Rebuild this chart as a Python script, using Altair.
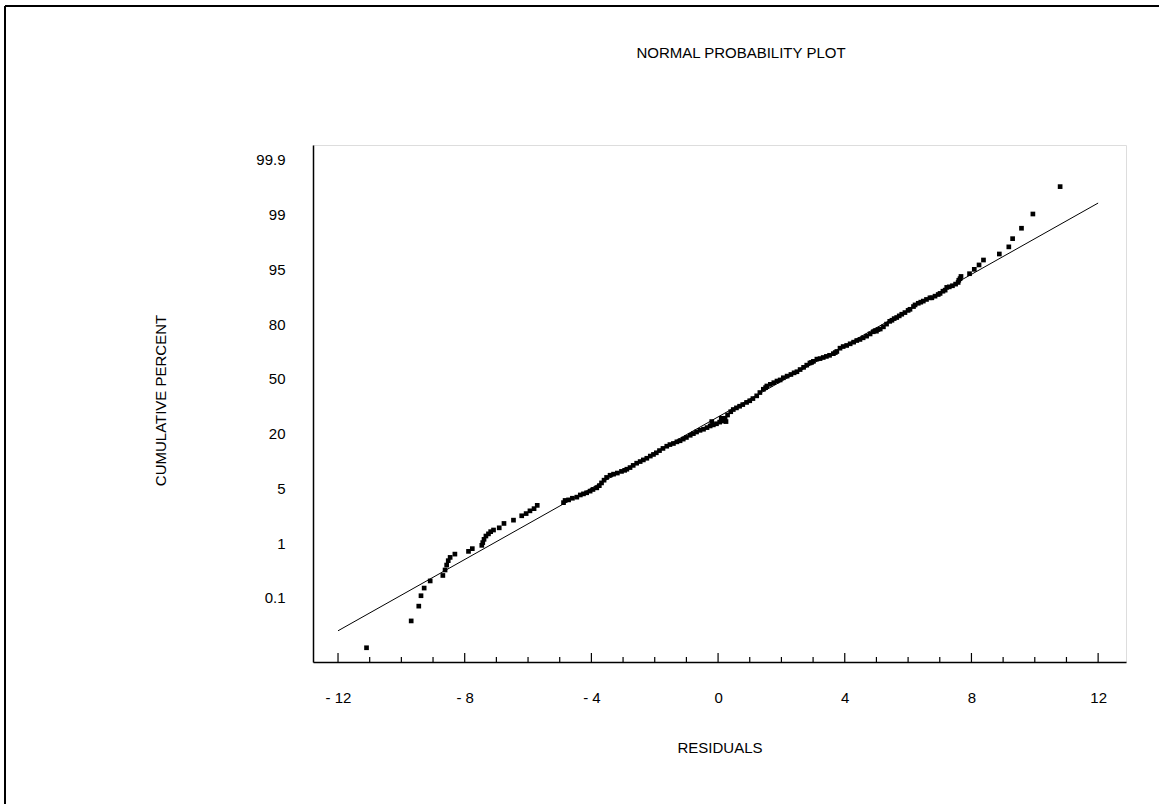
import altair as alt
import pandas as pd

# Residuals (x) and normal-score plotting positions (y, in probability-axis units)
res_x = [-11.10, -9.69, -9.45, -9.38, -9.28, -9.09, -8.69, -8.62, -8.57, -8.52, -8.46, -8.31,
         -7.88, -7.76, -7.46, -7.43, -7.39, -7.33, -7.25, -7.18, -7.09, -6.91, -6.76, -6.46,
         -6.20, -6.06, -5.94, -5.81, -5.71,
         -4.88, -4.83, -4.72, -4.60, -4.46, -4.35, -4.25, -4.15, -4.04, -3.95, -3.83, -3.75,
         -3.68, -3.60, -3.52, -3.41, -3.30, -3.18, -3.05, -2.95, -2.88, -2.78, -2.68, -2.57,
         -2.46, -2.36, -2.25, -2.14, -2.04, -1.95, -1.85, -1.74, -1.62, -1.52, -1.41, -1.30,
         -1.20, -1.10, -1.00, -0.88, -0.78, -0.68, -0.57, -0.46, -0.35, -0.25, -0.15, -0.05,
         0.05, 0.15, 0.22, 0.30, 0.40, 0.48, 0.58, 0.68, 0.78, 0.90, 1.00, 1.10, 1.22, 1.32,
         1.43, 1.54, 1.65, 1.76, 1.86, 1.96, 2.06, 2.18, 2.30, 2.40, 2.49, 2.59, 2.70, 2.80,
         2.90, 3.01, 3.12, 3.22, 3.32, 3.42, 3.52, 3.64, 3.75, 3.85, 3.95, 4.06, 4.17, 4.28,
         4.38, 4.48, 4.58, 4.69, 4.80, 4.90, 4.96, 5.05, 5.12, 5.22, 5.32, 5.42, 5.49, 5.56,
         5.64, 5.72, 5.80, 5.90, 6.00, 6.06, 6.17, 6.22, 6.32, 6.40, 6.48, 6.58, 6.69, 6.75,
         6.85, 6.95, 7.01, 7.10, 7.17, 7.22, 7.30, 7.40, 7.50, 7.58, 7.60, 7.64, 7.67,
         7.94, 8.09, 8.24, 8.38, 8.88, 9.18, 9.30, 9.58, 9.94, 10.80,
         -0.20, 0.10, 0.25, 1.50, 2.95, 3.70, 5.00]
res_y = [-4.91, -4.42, -4.15, -3.96, -3.82, -3.69, -3.59, -3.49, -3.40, -3.32, -3.26, -3.20,
         -3.15, -3.10, -3.04, -2.99, -2.93, -2.87, -2.83, -2.79, -2.76, -2.72, -2.64, -2.58,
         -2.50, -2.46, -2.41, -2.37, -2.31,
         -2.26, -2.22, -2.21, -2.18, -2.16, -2.12, -2.10, -2.08, -2.05, -2.02, -1.99, -1.95,
         -1.90, -1.85, -1.80, -1.76, -1.74, -1.72, -1.69, -1.67, -1.65, -1.62, -1.58, -1.54,
         -1.51, -1.48, -1.45, -1.41, -1.38, -1.35, -1.31, -1.27, -1.23, -1.20, -1.18, -1.15,
         -1.13, -1.10, -1.07, -1.03, -1.00, -0.97, -0.94, -0.92, -0.89, -0.86, -0.84, -0.82,
         -0.79, -0.77, -0.72, -0.66, -0.60, -0.56, -0.53, -0.50, -0.47, -0.43, -0.40, -0.36,
         -0.31, -0.25, -0.19, -0.13, -0.10, -0.07, -0.04, -0.02, 0.02, 0.05, 0.08, 0.11, 0.13,
         0.17, 0.21, 0.25, 0.29, 0.32, 0.36, 0.37, 0.39, 0.41, 0.43, 0.46, 0.50, 0.56, 0.59,
         0.61, 0.64, 0.67, 0.70, 0.72, 0.75, 0.78, 0.82, 0.86, 0.88, 0.90, 0.91, 0.95, 1.00,
         1.05, 1.07, 1.10, 1.12, 1.15, 1.18, 1.21, 1.25, 1.27, 1.32, 1.35, 1.38, 1.40, 1.42,
         1.45, 1.48, 1.48, 1.51, 1.54, 1.56, 1.60, 1.62, 1.67, 1.68, 1.70, 1.73, 1.76, 1.80,
         1.83, 1.87,
         1.92, 2.00, 2.08, 2.17, 2.28, 2.41, 2.56, 2.75, 3.01, 3.51,
         -0.78, -0.72, -0.78, -0.16, 0.30, 0.48, 0.87]

# Reference line end points
line_x = [-12, 12]
line_y = [-4.60, 3.21]

# Axis tick values / labels
y_ticks = [-4, -3, -2, -1, 0, 1, 2, 3, 4]
y_labels = ["0.1", "1", "5", "20", "50", "80", "95", "99", "99.9"]
x_major = [-12, -8, -4, 0, 4, 8, 12]
x_minor = [v for v in range(-12, 13) if v % 4 != 0]
title_text = ["NORMAL PROBABILITY PLOT"]

W, H = 813, 517
FONT = "Liberation Sans"
FS = 15

pts = pd.DataFrame({"x": res_x, "y": res_y})
ln = pd.DataFrame({"x": line_x, "y": line_y})
maj = pd.DataFrame({"x": x_major})
mnr = pd.DataFrame({"x": x_minor})
ttl = pd.DataFrame({"t": title_text})

xs = alt.Scale(domain=[-12.79, 12.88], nice=False, zero=False)
ys = alt.Scale(domain=[-5.17, 4.27], nice=False, zero=False)

label_map = "{" + ",".join(f"'{t}':'{l}'" for t, l in zip(y_ticks, y_labels)) + "}"

x_axis = alt.Axis(values=x_major, title="RESIDUALS", grid=False, ticks=False,
                  domainColor="black", domainWidth=1.5, labelPadding=28,
                  labelExpr="replace(format(datum.value, 'd'), '−', '- ')",
                  labelFont=FONT, labelFontSize=FS, labelColor="black",
                  titleFont=FONT, titleFontSize=FS, titleFontWeight="normal",
                  titleColor="black", titleX=W / 2, titleY=85, titleBaseline="middle",
                  titleAlign="center")
y_axis = alt.Axis(values=y_ticks, title="CUMULATIVE PERCENT", grid=False, ticks=False,
                  domainColor="black", domainWidth=1.5, labelPadding=28,
                  labelExpr=f"{label_map}[datum.value]",
                  labelFont=FONT, labelFontSize=FS, labelColor="black",
                  titleFont=FONT, titleFontSize=FS, titleFontWeight="normal",
                  titleColor="black", titleX=-153, titleY=255, titleAngle=-90,
                  titleBaseline="middle", titleAlign="center")

points = alt.Chart(pts).mark_square(size=22, color="black", opacity=1).encode(
    x=alt.X("x:Q", scale=xs, axis=x_axis),
    y=alt.Y("y:Q", scale=ys, axis=y_axis),
)
line = alt.Chart(ln).mark_line(color="black", strokeWidth=1).encode(
    x=alt.X("x:Q", scale=xs), y=alt.Y("y:Q", scale=ys))
major_ticks = alt.Chart(maj).mark_rule(color="black", strokeWidth=1.2).encode(
    x=alt.X("x:Q", scale=xs), y=alt.value(H), y2=alt.value(H - 9))
minor_ticks = alt.Chart(mnr).mark_rule(color="black", strokeWidth=1.2).encode(
    x=alt.X("x:Q", scale=xs), y=alt.value(H), y2=alt.value(H - 5))
title = alt.Chart(ttl).mark_text(font=FONT, fontSize=FS, color="black",
                                 align="center", baseline="middle").encode(
    text="t:N", x=alt.value(741 - 313), y=alt.value(53 - 145))

frame_top = alt.Chart(maj).mark_rule(color="black", strokeWidth=2).encode(
    x=alt.value(-308), x2=alt.value(846 + 40), y=alt.value(-139))
frame_left = alt.Chart(maj).mark_rule(color="black", strokeWidth=2).encode(
    x=alt.value(-308), y=alt.value(-139), y2=alt.value(H + 142))

chart = alt.layer(line, points, major_ticks, minor_ticks, title, frame_top, frame_left).properties(
    width=W, height=H,
    autosize="none",
    padding={"left": 313, "top": 145, "right": 1159 - 313 - W, "bottom": 804 - 145 - H},
).configure_view(stroke=None).configure(background="white")

chart.save("out.html", embed_options={"renderer": "svg", "actions": False})
